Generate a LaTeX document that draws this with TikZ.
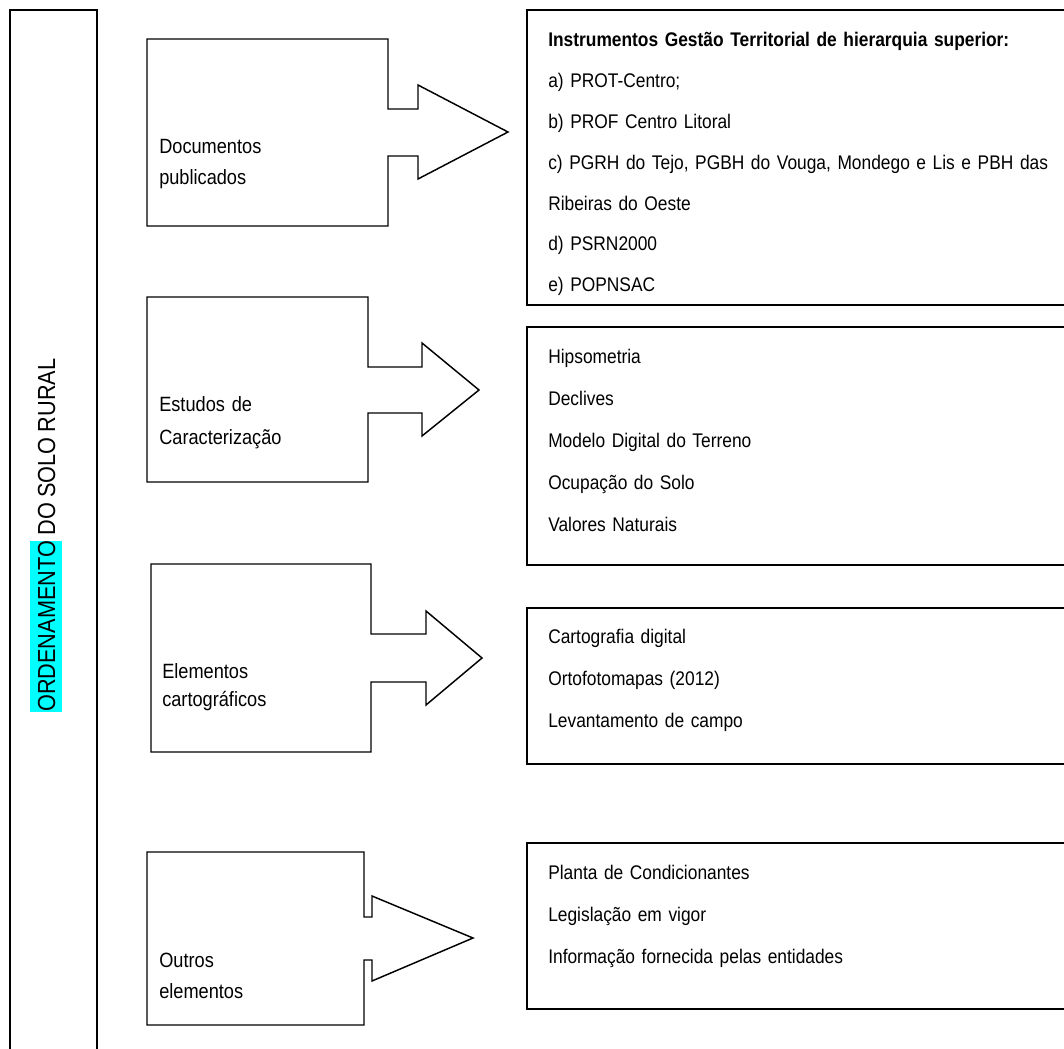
\documentclass[tikz,border=0pt]{standalone}
\usepackage{fontspec}
\setmainfont[FakeStretch=0.88,WordSpace=0.88]{Liberation Sans}
\definecolor{hl}{RGB}{0,255,255}
\begin{document}
\begin{tikzpicture}[x=0.75pt,y=-0.75pt,
  cshape/.style={draw=black,line width=1.1pt,line join=miter},
  rbox/.style={draw=black,line width=1.4pt},
  ctext/.style={anchor=base west,inner sep=0pt,text width=150pt,align=left},
  rtext/.style={anchor=base west,inner sep=0pt,text width=380pt,align=left}]
\useasboundingbox (0,0) rectangle (1064,1049);
\fill[white] (0,0) rectangle (1064,1049);

% left frame
\draw[cshape] (10,1049) -- (10,10) -- (97,10) -- (97,1049);
\node (title) [rotate=90, anchor=base west, inner sep=0pt, font=\fontsize{18.5pt}{22pt}\selectfont] at (55,712)
  {{\setlength{\fboxsep}{0pt}\colorbox{hl}{\rule[-5.25pt]{0pt}{24pt}ORDENAMENTO}} DO SOLO RURAL};

% callout 1
\draw[cshape] (147,39) -- (388,39) -- (388,109) -- (418,109) -- (418,85) -- (508,132)
  -- (418,179) -- (418,156) -- (388,156) -- (388,226) -- (147,226) -- cycle;
\node[ctext,font=\fontsize{15.5pt}{23.25pt}\selectfont] (c1) at (159,153) {Documentos\\publicados};

% callout 2
\draw[cshape] (147,297) -- (368,297) -- (368,367) -- (422,367) -- (422,343) -- (479,390)
  -- (422,436) -- (422,413) -- (368,413) -- (368,482) -- (147,482) -- cycle;
\node[ctext,font=\fontsize{15.5pt}{24.75pt}\selectfont] (c2) at (159,411) {Estudos de\\Caracterização};

% callout 3
\draw[cshape] (151,564) -- (371,564) -- (371,634) -- (426,634) -- (426,611) -- (482,658)
  -- (426,705) -- (426,682) -- (371,682) -- (371,752) -- (151,752) -- cycle;
\node[ctext,font=\fontsize{15.5pt}{21pt}\selectfont] (c3) at (162,678) {Elementos\\cartográficos};

% callout 4
\draw[cshape] (147,852) -- (364,852) -- (364,917) -- (372,917) -- (372,896) -- (473,938)
  -- (372,981) -- (372,960) -- (364,960) -- (364,1025) -- (147,1025) -- cycle;
\node[ctext,font=\fontsize{15.5pt}{23.25pt}\selectfont] (c4) at (159,967) {Outros\\elementos};

% right boxes
\draw[rbox] (1064,10) -- (527,10) -- (527,305) -- (1064,305);
\node[rtext,font=\fontsize{14.8pt}{30.6pt}\selectfont] (r1) at (548,47)
  {\textbf{Instrumentos Gestão Territorial de hierarquia superior:}\\
   a) PROT-Centro;\\
   b) PROF Centro Litoral\\
   \makebox[380pt][s]{c) PGRH do Tejo, PGBH do Vouga, Mondego e Lis e PBH das}\\
   Ribeiras do Oeste\\
   d) PSRN2000\\
   e) POPNSAC};

\draw[rbox] (1064,327) -- (527,327) -- (527,565) -- (1064,565);
\node[rtext,font=\fontsize{14.8pt}{31.5pt}\selectfont] (r2) at (548,363)
  {Hipsometria\\Declives\\Modelo Digital do Terreno\\Ocupação do Solo\\Valores Naturais};

\draw[rbox] (1064,608) -- (527,608) -- (527,764) -- (1064,764);
\node[rtext,font=\fontsize{14.8pt}{31.5pt}\selectfont] (r3) at (548,643)
  {Cartografia digital\\Ortofotomapas (2012)\\Levantamento de campo};

\draw[rbox] (1064,843) -- (527,843) -- (527,1009) -- (1064,1009);
\node[rtext,font=\fontsize{14.8pt}{31.5pt}\selectfont] (r4) at (548,879)
  {Planta de Condicionantes\\Legislação em vigor\\Informação fornecida pelas entidades};
\end{tikzpicture}
\end{document}
